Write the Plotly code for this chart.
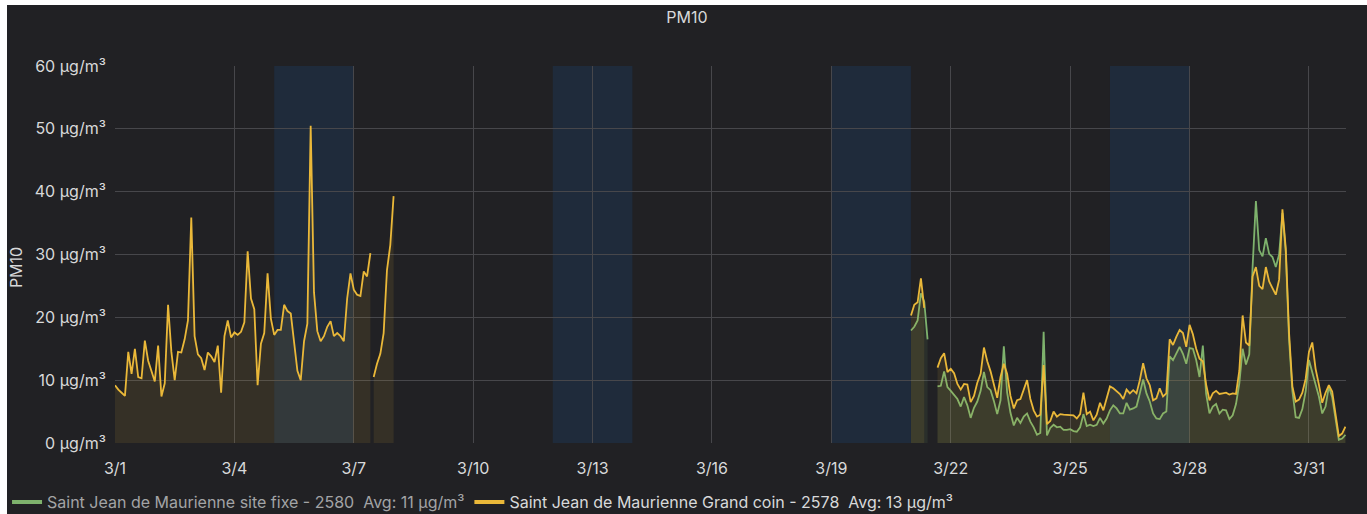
import plotly.graph_objects as go
from datetime import datetime, timedelta

# ---------------- data ----------------
chart_title = "PM10"
y_axis_title = "PM10"
unit = "µg/m³"
y_tick_values = [0, 10, 20, 30, 40, 50, 60]
x_tick_dates = ["2022-03-01", "2022-03-04", "2022-03-07", "2022-03-10", "2022-03-13", "2022-03-16",
                "2022-03-19", "2022-03-22", "2022-03-25", "2022-03-28", "2022-03-31"]
x_tick_labels = ["3/1", "3/4", "3/7", "3/10", "3/13", "3/16", "3/19", "3/22", "3/25", "3/28", "3/31"]
x_range = ["2022-03-01 00:00", "2022-03-31 22:20"]
weekend_starts = ["2022-03-05", "2022-03-12", "2022-03-19", "2022-03-26"]
weekend_ends = ["2022-03-07", "2022-03-14", "2022-03-21", "2022-03-28"]

step_hours = 2

site_fixe_name = "Saint Jean de Maurienne site fixe - 2580"
site_fixe_avg = "Avg: 11 µg/m³"
grand_coin_name = "Saint Jean de Maurienne Grand coin - 2578"
grand_coin_avg = "Avg: 13 µg/m³"

# Grand coin (yellow) segments, 2-hour samples
gc_seg1_start = "2022-03-01 00:00"
gc_seg1 = [9.2, 8.5, 8.0, 7.5, 14.5, 11.0, 15.0, 10.5, 10.3, 16.3, 13.1, 11.5,
           9.8, 15.5, 7.4, 9.5, 22.0, 14.5, 10.0, 14.5, 14.4, 16.5, 19.5, 35.9,
           17.0, 14.1, 13.5, 11.6, 14.4, 13.8, 12.9, 15.5, 8.0, 17.0, 19.5, 16.8,
           17.6, 17.2, 17.7, 19.2, 30.5, 23.0, 21.3, 9.2, 15.8, 17.5, 27.0, 19.8,
           17.2, 18.0, 18.0, 22.0, 21.0, 20.6, 16.0, 11.5, 10.0, 16.2, 19.0, 50.5,
           24.0, 17.8, 16.2, 17.0, 18.5, 19.4, 17.0, 17.5, 17.0, 16.2, 23.0, 27.0,
           24.4, 23.6, 23.4, 27.3, 26.5, 30.2]
gc_seg2_start = "2022-03-07 12:00"
gc_seg2 = [10.5, 12.6, 14.2, 17.5, 27.5, 31.5, 39.3]
gc_seg3_start = "2022-03-21 00:00"
gc_seg3 = [20.3, 22.0, 22.4, 26.2, 21.5]
gc_seg4_start = "2022-03-21 16:00"
gc_seg4 = [12.0, 13.5, 14.3, 11.3, 11.8, 11.1, 9.4, 8.5, 9.4, 9.3, 6.5, 7.5,
           9.6, 11.0, 15.2, 13.0, 11.4, 9.3, 7.2, 10.5, 12.6, 11.0, 7.5, 5.5,
           6.8, 7.0, 8.5, 10.0, 7.0, 5.2, 4.2, 4.5, 12.4, 3.0, 3.5, 5.0,
           4.2, 4.6, 4.5, 4.5, 4.4, 4.4, 3.9, 4.6, 8.0, 4.6, 5.0, 3.6,
           4.5, 6.4, 5.2, 7.2, 9.0, 8.7, 8.2, 7.8, 7.0, 8.5, 7.9, 8.4,
           7.9, 10.0, 12.7, 10.3, 9.2, 6.8, 7.1, 8.7, 7.4, 7.9, 16.5, 15.6,
           16.9, 18.0, 17.5, 15.3, 18.8, 17.3, 15.0, 13.4, 13.0, 9.3, 6.8, 7.9,
           8.3, 7.8, 7.9, 8.0, 7.7, 7.9, 7.8, 11.5, 20.3, 16.0, 15.5, 26.5,
           28.0, 25.0, 24.5, 28.0, 25.7, 24.7, 23.6, 26.0, 37.2, 31.0, 17.5, 9.0,
           6.6, 6.9, 8.0, 10.2, 14.5, 16.0, 11.8, 9.3, 6.4, 8.0, 9.2, 8.2,
           4.6, 1.1, 1.5, 2.6]

# Site fixe (green) segments, 2-hour samples
sf_seg1_start = "2022-03-21 00:00"
sf_seg1 = [17.9, 18.5, 19.5, 23.8, 22.5, 16.5]
sf_seg2_start = "2022-03-21 16:00"
sf_seg2 = [9.0, 9.1, 11.4, 8.9, 8.3, 7.7, 7.0, 5.8, 7.3, 6.0, 4.0, 5.6,
           6.6, 8.3, 11.3, 8.9, 8.4, 6.7, 4.6, 6.8, 15.4, 8.0, 4.8, 2.8,
           4.0, 3.2, 4.2, 4.7, 3.4, 2.5, 1.3, 1.6, 17.7, 1.2, 2.4, 2.9,
           2.5, 2.6, 2.1, 2.1, 2.2, 1.9, 1.8, 2.5, 4.6, 2.7, 2.9, 2.7,
           2.9, 4.0, 3.1, 3.9, 5.2, 6.0, 5.5, 4.7, 4.7, 6.4, 5.3, 5.5,
           5.8, 7.9, 10.1, 7.9, 6.6, 4.7, 3.9, 3.8, 4.7, 5.0, 13.8, 13.2,
           14.2, 15.3, 14.2, 12.6, 15.1, 15.0, 13.2, 10.5, 15.5, 7.8, 4.7, 5.8,
           6.2, 4.7, 5.3, 5.2, 3.8, 4.4, 6.2, 9.5, 15.0, 12.5, 14.1, 28.0,
           38.5, 30.7, 29.7, 32.6, 30.1, 29.6, 28.0, 30.0, 36.6, 30.5, 16.5, 8.3,
           4.1, 4.0, 5.4, 8.2, 13.2, 11.0, 9.3, 7.4, 4.7, 5.8, 9.0, 7.3,
           3.7, 0.5, 0.7, 1.3]

site_fixe_segments = [(sf_seg1_start, sf_seg1), (sf_seg2_start, sf_seg2)]
grand_coin_segments = [(gc_seg1_start, gc_seg1), (gc_seg2_start, gc_seg2),
                       (gc_seg3_start, gc_seg3), (gc_seg4_start, gc_seg4)]

# ---------------- styles ----------------
green = "#7EB26D"
yellow = "#EAB839"
bg = "#212124"
text_col = "#d8d9da"
grid_col = "#47474b"
band_col = "#1f2b3b"
font_family = "Inter, Roboto, sans-serif"


def seg_xy(start, vals):
    t0 = datetime.strptime(start, "%Y-%m-%d %H:%M")
    return [t0 + timedelta(hours=step_hours * i) for i in range(len(vals))], vals


fig = go.Figure()

for segments, color, fillc, grp in [
        (site_fixe_segments, green, "rgba(126,178,109,0.10)", "sf"),
        (grand_coin_segments, yellow, "rgba(234,184,57,0.10)", "gc")]:
    for start, vals in segments:
        xs, ys = seg_xy(start, vals)
        fig.add_trace(go.Scatter(x=xs, y=ys, mode="lines", fill="tozeroy",
                                 line=dict(color=color, width=1.8),
                                 fillcolor=fillc, legendgroup=grp,
                                 showlegend=False, hoverinfo="skip"))

# legend entries
fig.add_trace(go.Scatter(x=[None], y=[None], mode="lines", legendgroup="sf",
                         line=dict(color=green, width=4),
                         name=f"<span style='color:#a3a4a6'>{site_fixe_name}&nbsp; {site_fixe_avg}</span>"))
fig.add_trace(go.Scatter(x=[None], y=[None], mode="lines", legendgroup="gc",
                         line=dict(color=yellow, width=4),
                         name=f"{grand_coin_name}&nbsp; {grand_coin_avg}"))

for s, e in zip(weekend_starts, weekend_ends):
    fig.add_shape(type="rect", xref="x", yref="paper", x0=s, x1=e, y0=0, y1=1,
                  fillcolor=band_col, line_width=0, layer="below")

fig.add_annotation(text=y_axis_title, xref="paper", yref="paper", x=-0.0804, y=0.464,
                   textangle=-90, showarrow=False, xanchor="center", yanchor="middle",
                   font=dict(size=16, color=text_col, family=font_family))

fig.update_layout(
    width=1360, height=509,
    margin=dict(l=108, r=21, t=61, b=71, autoexpand=False),
    paper_bgcolor=bg, plot_bgcolor=bg,
    font=dict(family=font_family, color=text_col, size=16),
    title=dict(text=chart_title, x=0.5, xanchor="center", y=1 - 12 / 509, yanchor="middle",
               yref="container", font=dict(size=16, color=text_col, family=font_family)),
    showlegend=True,
    legend=dict(orientation="h", x=-0.0877, xanchor="left", y=-0.157, yanchor="middle",
                font=dict(size=16, color=text_col, family=font_family),
                bgcolor="rgba(0,0,0,0)", itemwidth=30, traceorder="normal"),
    xaxis=dict(type="date", range=x_range, tickvals=x_tick_dates, ticktext=x_tick_labels,
               showgrid=True, gridcolor=grid_col, gridwidth=1, zeroline=False,
               ticks="outside", ticklen=11, tickcolor="rgba(0,0,0,0)",
               tickfont=dict(size=16, color=text_col), showline=False, fixedrange=True,
               automargin=False),
    yaxis=dict(range=[0, 60], tickvals=y_tick_values,
               ticktext=[f"{v} {unit}" for v in y_tick_values],
               showgrid=True, gridcolor=grid_col, gridwidth=1, zeroline=False,
               ticks="outside", ticklen=5, tickcolor="rgba(0,0,0,0)",
               tickfont=dict(size=16, color=text_col), showline=False, fixedrange=True,
               automargin=False),
)

fig.write_html("out.html",
               post_script="document.body.style.margin='5px 0 0 7px';"
                           "document.body.style.overflow='hidden';"
                           "document.body.style.background='#ffffff';")
